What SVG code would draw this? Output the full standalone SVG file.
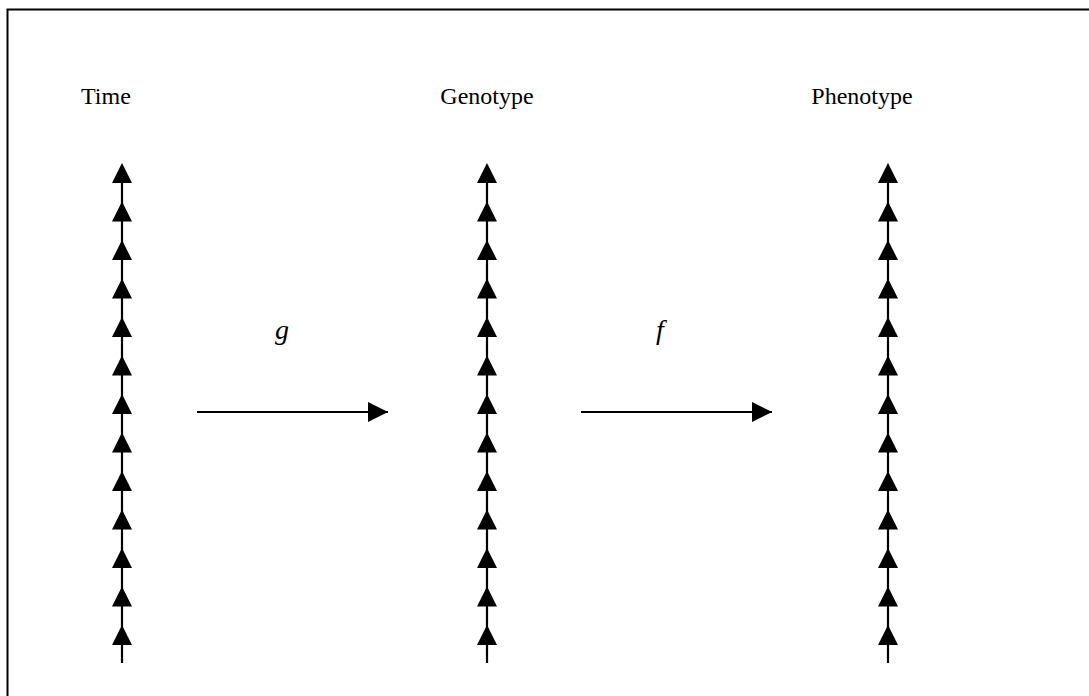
<svg xmlns="http://www.w3.org/2000/svg" xmlns:xlink="http://www.w3.org/1999/xlink" width="1089" height="696" viewBox="0 0 1089 696">
<style>
.lbl{font-family:"Liberation Serif","Times New Roman",serif;font-size:24px;fill:#000}
.fn{font-family:"Liberation Serif","Times New Roman",serif;font-size:28px;font-style:italic;fill:#000}
.axis{stroke:#000;stroke-width:2.2;fill:none}
.conn{stroke:#000;stroke-width:2;fill:none}
</style>
<defs>
<path id="tri" d="M0,0 L10,20 L-10,20 Z" fill="#000"/>
<g id="col">
<line class="axis" x1="0" y1="175" x2="0" y2="663"/>
<use xlink:href="#tri" y="163"/>
<use xlink:href="#tri" y="201.5"/>
<use xlink:href="#tri" y="240"/>
<use xlink:href="#tri" y="278.5"/>
<use xlink:href="#tri" y="317"/>
<use xlink:href="#tri" y="355.5"/>
<use xlink:href="#tri" y="394"/>
<use xlink:href="#tri" y="432.5"/>
<use xlink:href="#tri" y="471"/>
<use xlink:href="#tri" y="509.5"/>
<use xlink:href="#tri" y="548"/>
<use xlink:href="#tri" y="586.5"/>
<use xlink:href="#tri" y="625"/>
</g>
<marker id="ah" markerWidth="10" markerHeight="10" refX="10" refY="5" orient="auto" markerUnits="strokeWidth" viewBox="0 0 10 10">
<path d="M0,0 L10,5 L0,10 Z" fill="#000"/>
</marker>
</defs>
<rect x="7.5" y="9.5" width="1100" height="700" fill="#fff" stroke="#000" stroke-width="2"/>
<g id="time">
<text class="lbl" x="81" y="104">Time</text>
<use xlink:href="#col" x="122"/>
</g>
<g id="genotype">
<text class="lbl" x="487" y="104" text-anchor="middle">Genotype</text>
<use xlink:href="#col" x="487"/>
</g>
<g id="phenotype">
<text class="lbl" x="862" y="104" text-anchor="middle">Phenotype</text>
<use xlink:href="#col" x="888"/>
</g>
<g id="connectors">
<line class="conn" x1="197" y1="412" x2="388" y2="412" marker-end="url(#ah)"/>
<line class="conn" x1="581" y1="412" x2="772" y2="412" marker-end="url(#ah)"/>
<text class="fn" x="275" y="339">g</text>
<text class="fn" x="656" y="339">f</text>
</g>
</svg>
